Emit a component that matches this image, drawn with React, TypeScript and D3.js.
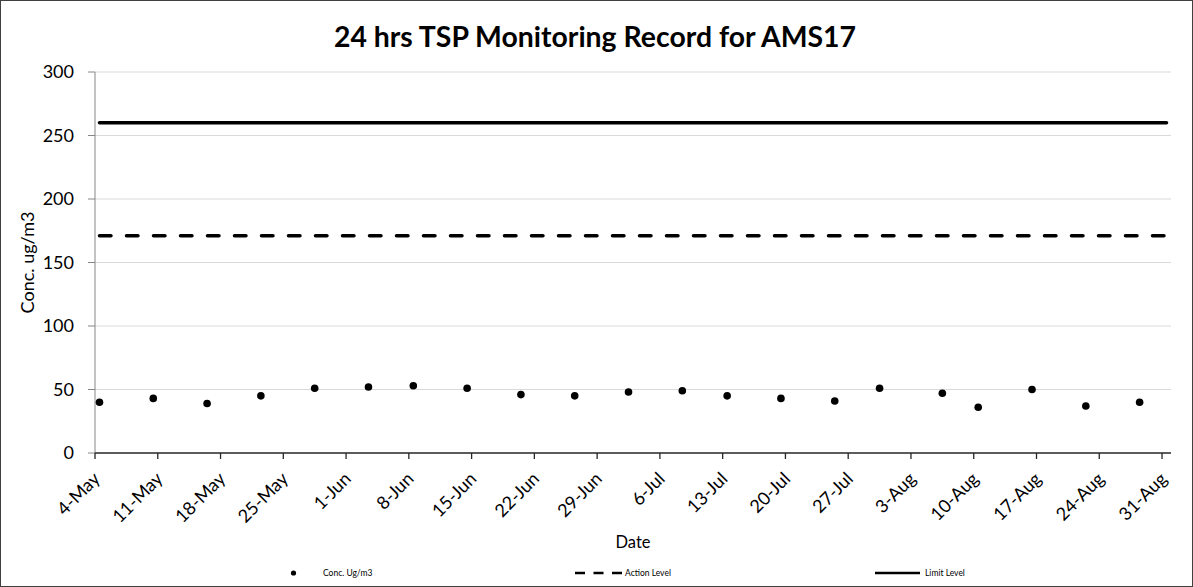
import React from "react";
import * as d3 from "d3";

// sampling dates and measured TSP values (ug/m3)
const sampleDates = [
  "4-May", "10-May", "16-May", "22-May", "28-May", "3-Jun", "8-Jun",
  "14-Jun", "20-Jun", "26-Jun", "2-Jul", "8-Jul", "13-Jul", "19-Jul",
  "25-Jul", "30-Jul", "6-Aug", "10-Aug", "16-Aug", "22-Aug", "28-Aug",
];
const concValues = [
  40, 43, 39, 45, 51, 52, 53, 51, 46, 45, 48, 49, 45, 43, 41, 51, 47, 36, 50, 37, 40,
];

// reference levels
const levelDates = ["4-May", "31-Aug"];
const actionLevel = [171, 171];
const limitLevel = [260, 260];

// axis ticks
const xTickLabels = [
  "4-May", "11-May", "18-May", "25-May", "1-Jun", "8-Jun", "15-Jun", "22-Jun",
  "29-Jun", "6-Jul", "13-Jul", "20-Jul", "27-Jul", "3-Aug", "10-Aug", "17-Aug",
  "24-Aug", "31-Aug",
];
const yTicks = [0, 50, 100, 150, 200, 250, 300];

const YEAR = 2020;
const parse = d3.utcParse("%d-%b-%Y");
const toDate = (s: string) => parse(`${s}-${YEAR}`)!;
// Excel date axis centres each point inside its day
const mid = (s: string) => d3.utcHour.offset(toDate(s), 12);

const WIDTH = 1193;
const HEIGHT = 587;
const FONT = "Lato, 'Open Sans', sans-serif";

const App = () => {
  const margin = { top: 72, right: 22, bottom: 134, left: 95 };

  const x = d3
    .scaleUtc()
    .domain([toDate("4-May"), d3.utcDay.offset(toDate("31-Aug"), 1)])
    .range([margin.left, WIDTH - margin.right]);

  const y = d3
    .scaleLinear()
    .domain([0, 300])
    .range([HEIGHT - margin.bottom, margin.top]);

  const levelLine = d3
    .line<number>()
    .x((_, i) => x(mid(levelDates[i])))
    .y((d) => y(d));

  const x0 = margin.left;
  const x1 = WIDTH - margin.right;
  const yBase = y(0);

  return (
    <>
      <style>{`body{margin:0}`}</style>
      <svg width={WIDTH} height={HEIGHT} style={{ display: "block" }} fontFamily={FONT}>
        <rect x={0.5} y={0.5} width={WIDTH - 1} height={HEIGHT - 1} fill="#fff" stroke="#404040" />

        <text x={595} y={47} textAnchor="middle" fontSize={28.4} fontWeight="bold" fill="#000">
          24 hrs TSP Monitoring Record for AMS17
        </text>

        {/* gridlines */}
        {yTicks.filter((t) => t > 0).map((t) => (
          <line key={t} x1={x0} x2={x1} y1={y(t)} y2={y(t)} stroke="#d9d9d9" strokeWidth={1} />
        ))}

        {/* y axis */}
        <line x1={x0} x2={x0} y1={y(300)} y2={yBase} stroke="#868686" />
        {yTicks.map((t) => (
          <g key={t}>
            <line x1={x0 - 7} x2={x0} y1={y(t)} y2={y(t)} stroke="#868686" />
            <text x={74} y={y(t)} dy="0.36em" textAnchor="end" fontSize={18} fill="#000">
              {t}
            </text>
          </g>
        ))}
        <text
          transform={`translate(28, ${(y(0) + y(300)) / 2}) rotate(-90)`}
          textAnchor="middle"
          dy="0.35em"
          fontSize={18}
          fill="#000"
        >
          Conc. ug/m3
        </text>

        {/* x axis */}
        <line x1={x0} x2={x1} y1={yBase} y2={yBase} stroke="#262626" strokeWidth={1.3} />
        {xTickLabels.map((s) => {
          const tx = x(toDate(s));
          return (
            <g key={s}>
              <line x1={tx} x2={tx} y1={yBase} y2={yBase + 6} stroke="#262626" strokeWidth={1.3} />
              <text
                transform={`translate(${tx + 6}, ${yBase + 27}) rotate(-45)`}
                textAnchor="end"
                fontSize={18}
                fill="#000"
              >
                {s}
              </text>
            </g>
          );
        })}
        <text x={(x0 + x1) / 2} y={548} textAnchor="middle" fontSize={16.5} fill="#000">
          Date
        </text>

        {/* level lines */}
        <path d={levelLine(limitLevel)!} fill="none" stroke="#000" strokeWidth={3.5} strokeLinecap="round" />
        <path
          d={levelLine(actionLevel)!}
          fill="none"
          stroke="#000"
          strokeWidth={3.5}
          strokeDasharray="11.5 15.5"
          strokeLinecap="round"
        />

        {/* measured points */}
        {concValues.map((v, i) => (
          <circle key={i} cx={x(mid(sampleDates[i]))} cy={y(v)} r={3.8} fill="#000" />
        ))}

        {/* legend */}
        <g fontSize={8.5} fill="#000">
          <circle cx={293.5} cy={573} r={2.6} fill="#000" />
          <text x={323} y={573} dy="0.35em">Conc. Ug/m3</text>
          <line x1={575} x2={622} y1={573} y2={573} stroke="#000" strokeWidth={2.7} strokeDasharray="10 8.5" />
          <text x={625} y={573} dy="0.35em">Action Level</text>
          <line x1={875} x2={920} y1={573} y2={573} stroke="#000" strokeWidth={2.7} />
          <text x={925} y={573} dy="0.35em">Limit Level</text>
        </g>
      </svg>
    </>
  );
};

export default App;
